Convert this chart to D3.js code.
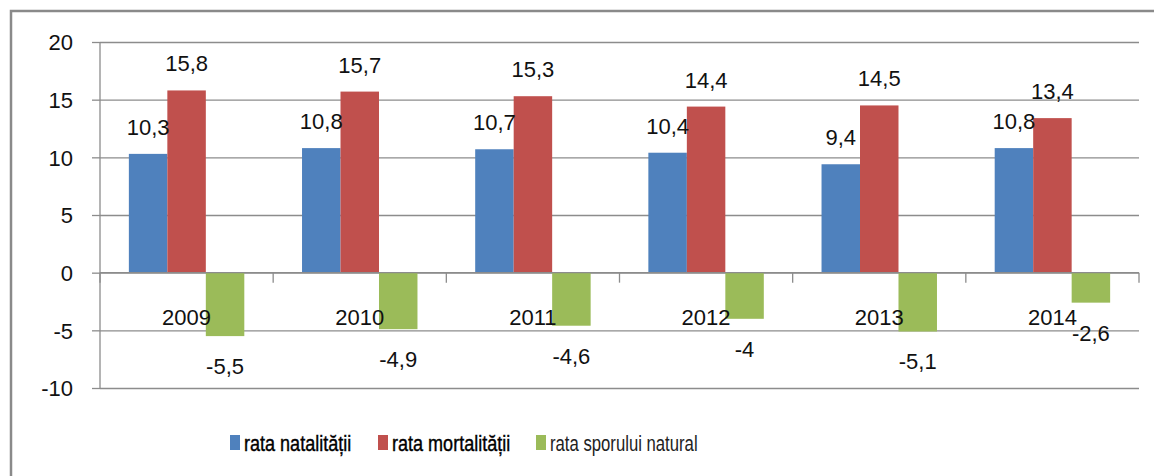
<!DOCTYPE html>
<html>
<head>
<meta charset="utf-8">
<script src="https://cdnjs.cloudflare.com/ajax/libs/d3/7.8.5/d3.min.js"></script>
<style>
  body { margin: 0; background: #fff; }
  svg { display: block; font-family: "Liberation Sans", Arial, sans-serif; }
</style>
</head>
<body>
<div id="viz"></div>
<script>
// Data.
var years = ["2009", "2010", "2011", "2012", "2013", "2014"];
var natalitate = [10.3, 10.8, 10.7, 10.4, 9.4, 10.8];
var mortalitate = [15.8, 15.7, 15.3, 14.4, 14.5, 13.4];
var spor = [-5.5, -4.9, -4.6, -4, -5.1, -2.6];
var seriesNames = ["rata natalității", "rata mortalității", "rata sporului natural"];
var yTicks = [-10, -5, 0, 5, 10, 15, 20];

var colors = ["#4f81bd", "#c0504d", "#9bbb59"];
var series = [natalitate, mortalitate, spor];

var chartW = 1154, chartH = 476;
var plotLeft = 100, plotRight = 1139, plotTop = 42, plotBottom = 388;
var gridColor = "#8c8c8c";

var ro = d3.formatLocale({ decimal: ",", thousands: ".", grouping: [3], currency: ["", ""], minus: "-" });
var fmt = ro.format("~g");

var svg = d3.select("#viz")
	.append("svg")
	.attr("width", chartW)
	.attr("height", chartH);

// Frame.
svg.append("rect")
	.attr("x", 11)
	.attr("y", 11)
	.attr("width", 1200)
	.attr("height", 600)
	.style("fill", "none")
	.style("stroke", "#8a8a8a")
	.style("stroke-width", 2.5);

var x = d3.scaleBand().domain(years).range([plotLeft, plotRight]).padding(0);
var xs = d3.scaleBand().domain([0, 1, 2]).range([0, x.bandwidth()])
	.paddingInner(0).paddingOuter(0.75);
var y = d3.scaleLinear().domain([-10, 20]).range([plotBottom, plotTop]);

// Gridlines + y axis.
var yAxis = d3.axisLeft(y)
	.tickValues(yTicks)
	.tickSize(-(plotRight - plotLeft))
	.tickPadding(0)
	.tickFormat(function (d) { return d; });

var gy = svg.append("g")
	.attr("transform", "translate(" + plotLeft + ",0)")
	.call(yAxis);
gy.select(".domain").remove();
gy.selectAll(".tick line")
	.style("stroke", gridColor)
	.style("stroke-width", 1.3);
gy.selectAll(".tick")
	.append("line")
	.attr("x1", -8)
	.attr("x2", 0)
	.style("stroke", gridColor)
	.style("stroke-width", 1.3);
gy.selectAll(".tick text")
	.attr("x", -27)
	.attr("dy", "0.35em")
	.style("font-size", "22px")
	.style("fill", "#111")
	.style("font-family", "Liberation Sans, Arial, sans-serif");

// Y axis line.
svg.append("line")
	.attr("x1", plotLeft).attr("x2", plotLeft)
	.attr("y1", plotTop).attr("y2", plotBottom)
	.style("stroke", gridColor)
	.style("stroke-width", 1.3);

// Bars.
series.forEach(function (vals, s) {
	svg.append("g")
		.selectAll("rect")
		.data(vals)
		.enter()
		.append("rect")
		.attr("x", function (d, i) { return x(years[i]) + xs(s); })
		.attr("y", function (d) { return y(Math.max(0, d)); })
		.attr("width", xs.bandwidth())
		.attr("height", function (d) { return Math.abs(y(d) - y(0)); })
		.style("fill", colors[s]);
});

// X axis line and category ticks.
svg.append("line")
	.attr("x1", plotLeft).attr("x2", plotRight)
	.attr("y1", y(0)).attr("y2", y(0))
	.style("stroke", gridColor)
	.style("stroke-width", 1.3);

var bounds = years.map(function (d) { return x(d); }).concat([plotRight]);
svg.append("g")
	.selectAll("line")
	.data(bounds)
	.enter()
	.append("line")
	.attr("x1", function (d) { return d; })
	.attr("x2", function (d) { return d; })
	.attr("y1", y(0))
	.attr("y2", y(0) + 10)
	.style("stroke", gridColor)
	.style("stroke-width", 1.3);

// Category labels.
svg.append("g")
	.selectAll("text")
	.data(years)
	.enter()
	.append("text")
	.attr("x", function (d) { return x(d) + x.bandwidth() / 2; })
	.attr("y", y(0) + 52)
	.attr("text-anchor", "middle")
	.style("font-size", "22px")
	.style("fill", "#111")
	.text(function (d) { return d; });

// Data labels.
series.forEach(function (vals, s) {
	svg.append("g")
		.selectAll("text")
		.data(vals)
		.enter()
		.append("text")
		.attr("x", function (d, i) { return x(years[i]) + xs(s) + xs.bandwidth() / 2; })
		.attr("y", function (d) { return d >= 0 ? y(d) - 19 : y(d) + 38; })
		.attr("text-anchor", "middle")
		.style("font-size", "22px")
		.style("fill", "#111")
		.text(function (d) { return fmt(d); });
});

// Legend.
var legendX = [230, 378, 536];
var legendScale = [0.82, 0.82, 0.76];
var legend = svg.append("g")
	.selectAll("g")
	.data(seriesNames)
	.enter()
	.append("g")
	.attr("transform", function (d, i) { return "translate(" + legendX[i] + ",435)"; });

legend.append("rect")
	.attr("width", 10)
	.attr("height", 15)
	.style("fill", function (d, i) { return colors[i]; });

legend.append("text")
	.attr("transform", function (d, i) { return "translate(14,16) scale(" + legendScale[i] + ",1)"; })
	.style("font-size", "22px")
	.style("fill", function (d, i) { return i < 2 ? "#000" : "#222"; })
	.style("stroke", function (d, i) { return i < 2 ? "#000" : "none"; })
	.style("stroke-width", 0.4)
	.text(function (d) { return d; });
</script>
</body>
</html>
